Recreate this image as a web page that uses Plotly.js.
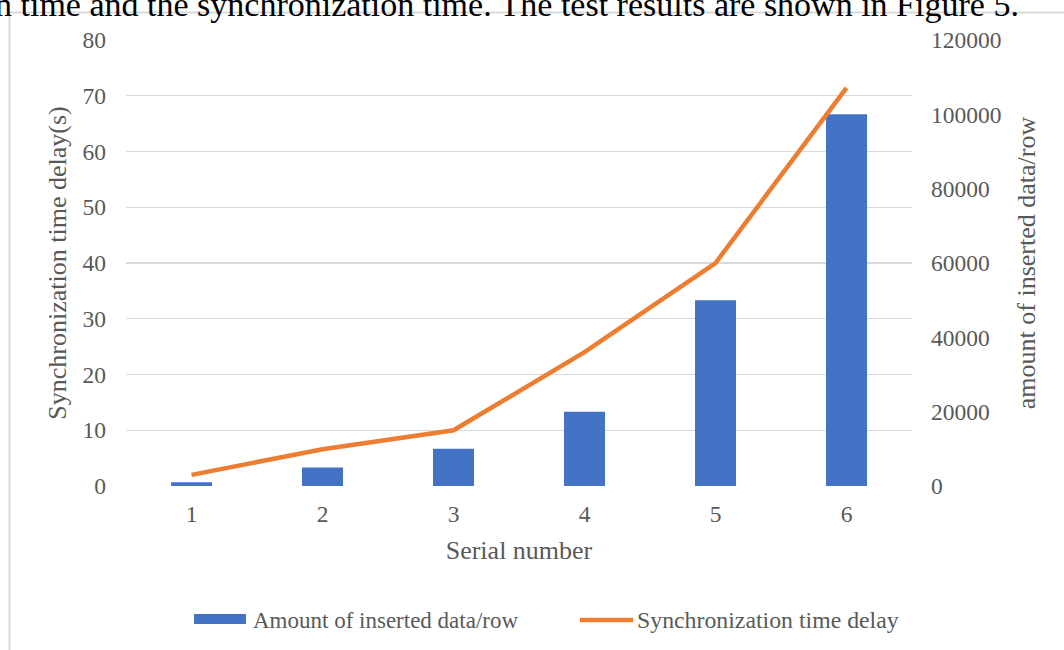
<!DOCTYPE html>
<html>
<head>
<meta charset="utf-8">
<script src="https://cdn.plot.ly/plotly-3.0.1.min.js"></script>
<style>
html,body{margin:0;padding:0;background:#fff;}
#chart{width:1064px;height:650px;}
</style>
</head>
<body>
<div id="chart"></div>
<script>
// ---- data ----
const serialNumbers = ['1', '2', '3', '4', '5', '6'];
const insertedRows = [1000, 5000, 10000, 20000, 50000, 100000];
const syncDelay = [2, 6.6, 10, 24, 40, 71.4];
const leftTicks = [0, 10, 20, 30, 40, 50, 60, 70, 80];
const rightTicks = [0, 20000, 40000, 60000, 80000, 100000, 120000];
const barName = 'Amount of inserted data/row';
const lineName = 'Synchronization time delay';
const captionText = 'n time and the synchronization time. The test results are shown in Figure 5.';

// ---- styles ----
const W = 1064, H = 650;
const M = {l: 126, r: 152, t: 40, b: 164};
const PW = W - M.l - M.r, PH = H - M.t - M.b;
const px = x => (x - M.l) / PW;          // pixel -> paper x
const py = y => (H - M.b - y) / PH;      // pixel -> paper y
const FONT = '"Liberation Serif", "Times New Roman", serif';
const GREY = '#595959';
const BLUE = '#4472C4';
const ORANGE = '#ED7D31';
const GRID = '#d9d9d9';
const TICK = 23.5;

const traces = [
  {
    type: 'bar', name: barName, x: serialNumbers, y: insertedRows,
    yaxis: 'y', marker: {color: BLUE}, showlegend: false, hoverinfo: 'x+y'
  },
  {
    type: 'scatter', mode: 'lines', name: lineName, x: serialNumbers, y: syncDelay,
    yaxis: 'y2', line: {color: ORANGE, width: 4.5}, showlegend: false, hoverinfo: 'x+y'
  }
];

const layout = {
  width: W, height: H,
  margin: M,
  paper_bgcolor: '#ffffff', plot_bgcolor: 'rgba(0,0,0,0)',
  font: {family: FONT, color: GREY, size: TICK},
  bargap: 0.687,
  showlegend: false,
  xaxis: {
    type: 'category', range: [-0.5, 5.5],
    showgrid: false, zeroline: false, showline: false, ticks: '',
    ticklabelstandoff: 11,
    tickfont: {family: FONT, size: TICK, color: GREY},
    title: {text: 'Serial number', font: {family: FONT, size: 26, color: GREY}, standoff: 15}
  },
  yaxis: {
    side: 'right', range: [0, 120000], tickvals: rightTicks,
    ticktext: rightTicks.map(String),
    showgrid: false, zeroline: false, showline: false, ticks: '',
    ticklabelstandoff: 18,
    tickfont: {family: FONT, size: TICK, color: GREY},
    title: {text: 'amount of inserted data/row', font: {family: FONT, size: 26, color: GREY}, standoff: 16}
  },
  yaxis2: {
    overlaying: 'y', side: 'left', range: [0, 80], tickvals: leftTicks,
    showgrid: true, gridcolor: GRID, gridwidth: 1.3,
    zeroline: false, showline: false, ticks: '',
    ticklabelstandoff: 19,
    tickfont: {family: FONT, size: TICK, color: GREY},
    title: {text: 'Synchronization time delay(s)', font: {family: FONT, size: 26, color: GREY}, standoff: 8}
  },
  shapes: [
    // chart frame (left and top edges)
    {type: 'line', xref: 'paper', yref: 'paper', x0: px(9.5), x1: px(9.5), y0: py(12), y1: py(652),
     line: {color: GRID, width: 2}},
    {type: 'line', xref: 'paper', yref: 'paper', x0: px(8.5), x1: px(1066), y0: py(12.5), y1: py(12.5),
     line: {color: GRID, width: 2}},
    // legend swatches
    {type: 'rect', xref: 'paper', yref: 'paper', x0: px(194), x1: px(246), y0: py(614), y1: py(624),
     fillcolor: BLUE, line: {width: 0}},
    {type: 'line', xref: 'paper', yref: 'paper', x0: px(580), x1: px(633), y0: py(620), y1: py(620),
     line: {color: ORANGE, width: 4.5}}
  ],
  annotations: [
    {xref: 'paper', yref: 'paper', x: px(251), y: py(620), xanchor: 'left', yanchor: 'middle',
     text: barName, showarrow: false, font: {family: FONT, size: 23, color: GREY}},
    {xref: 'paper', yref: 'paper', x: px(635), y: py(620), xanchor: 'left', yanchor: 'middle',
     text: lineName, showarrow: false, font: {family: FONT, size: 23.8, color: GREY}},
    {xref: 'paper', yref: 'paper', x: px(-7), y: py(25), xanchor: 'left', yanchor: 'bottom',
     text: captionText, showarrow: false, font: {family: FONT, size: 34, color: '#000000'}}
  ]
};

Plotly.newPlot('chart', traces, layout, {displayModeBar: false, staticPlot: true});
</script>
</body>
</html>
